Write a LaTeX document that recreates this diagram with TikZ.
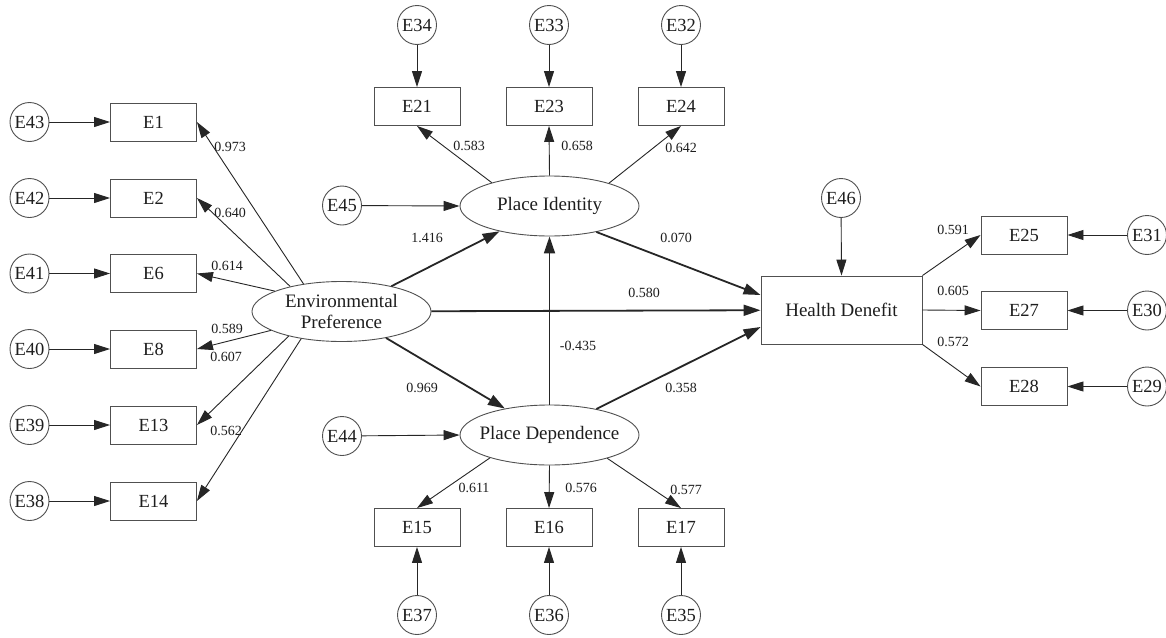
\documentclass[tikz,border=0pt]{standalone}
\usepackage{fontspec}
\setmainfont{Liberation Serif}
\usetikzlibrary{shapes.geometric,arrows.meta,calc}
\definecolor{ln}{HTML}{262626}
\definecolor{bd}{HTML}{505050}
\definecolor{tx}{HTML}{1E1E1E}
\begin{document}
\begin{tikzpicture}[x=1pt,y=-1pt,
  err/.style={circle,draw=bd,line width=0.9pt,minimum size=39pt,inner sep=0pt,text=tx,font=\fontsize{18.5}{20}\selectfont},
  obs/.style={rectangle,draw=bd,line width=0.9pt,minimum width=86pt,minimum height=38pt,inner sep=0pt,text=tx,font=\fontsize{18.5}{20}\selectfont},
  lat/.style={ellipse,draw=bd,line width=0.9pt,minimum width=179pt,minimum height=60pt,inner xsep=-12pt,inner ysep=0pt,text=tx,align=center,font=\fontsize{19}{21}\selectfont},
  lbl/.style={inner sep=0pt,text=tx,font=\fontsize{14}{15}\selectfont},
  thin/.style={draw=ln,line width=0.9pt,-{Triangle[length=16pt,width=10pt]}},
  thick/.style={draw=ln,line width=1.8pt,-{Triangle[length=17pt,width=11pt]}}
]
\useasboundingbox[fill=white] (0,0) rectangle (1166,637);

% left indicators
\foreach \e/\b/\y in {E43/E1/122,E42/E2/198,E41/E6/273.5,E40/E8/349,E39/E13/425,E38/E14/501}{
  \node[err] (\e) at (29.5,\y) {\e};
  \node[obs] (\b) at (153.5,\y) {\b};
  \draw[thin] (\e) -- (\b);
}

% latent variables
\node[lat] (EP) at (341.5,311.5) {Environmental\\Preference};
\node[lat] (PI) at (549.5,206) {Place Identity};
\node[lat] (PD) at (549.5,435) {Place Dependence};
\node[obs,minimum width=161pt,minimum height=68pt,font=\fontsize{19}{21}\selectfont] (H) at (841.5,310) {Health Denefit};

% disturbances
\node[err] (E45) at (342,205.5) {E45};
\node[err] (E44) at (342,436) {E44};
\node[err] (E46) at (841,198) {E46};
\draw[thin] (E45) -- (PI.west);
\draw[thin] (E44) -- (PD.west);
\draw[thin] (E46) -- (H.north);

% Place identity indicators
\foreach \b/\e/\x in {E21/E34/417,E23/E33/549,E24/E32/681}{
  \node[obs] (\b) at (\x,106.5) {\b};
  \node[err] (\e) at (\x,25) {\e};
  \draw[thin] (\e) -- (\b);
}
% Place dependence indicators
\foreach \b/\e/\x in {E15/E37/417,E16/E36/549,E17/E35/681}{
  \node[obs] (\b) at (\x,527.5) {\b};
  \node[err] (\e) at (\x,615) {\e};
  \draw[thin] (\e) -- (\b);
}
% Health indicators
\foreach \b/\e/\y in {E25/E31/235,E27/E30/310.5,E28/E29/386.5}{
  \node[obs] (\b) at (1024,\y) {\b};
  \node[err] (\e) at (1147,\y) {\e};
  \draw[thin] (\e) -- (\b);
}

% loadings of Environmental Preference
\draw[thin] (EP.144.6) -- (E1.east);
\draw[thin] (EP.154.1) -- (E2.east);
\draw[thin] (EP.163.3) -- (E6.east);
\draw[thin] (EP.195.3) -- (E8.east);
\draw[thin] (EP.205.1) -- (E13.east);
\draw[thin] (EP.214.8) -- (E14.east);

% loadings of Place Identity
\draw[thin] (PI.158.9) -- (E21.south);
\draw[thin] (PI.north) -- (E23.south);
\draw[thin] (PI.21.1) -- (E24.south);
% loadings of Place Dependence
\draw[thin] (PD.201.1) -- (E15.north);
\draw[thin] (PD.south) -- (E16.north);
\draw[thin] (PD.338.9) -- (E17.north);
% loadings of Health
\draw[thin] (H.north east) -- (E25.west);
\draw[thin] (H.east) -- (E27.west);
\draw[thin] (H.south east) -- (E28.west);

% structural paths
\draw[thick] (EP) -- (PI);
\draw[thick] (EP) -- (PD);
\draw[thick] (EP) -- (H);
\draw[thick] (PD.north) -- (PI.south);
\draw[thick] (PI.331.8) -- ($(H.west)+(0,-15)$);
\draw[thick] (PD.29.1) -- ($(H.west)+(0,17)$);

% coefficient labels
\node[lbl] (l1) at (230,147) {0.973};
\node[lbl] (l2) at (230,213) {0.640};
\node[lbl] (l3) at (227,266) {0.614};
\node[lbl] (l4) at (227,329) {0.589};
\node[lbl] (l5) at (226,357) {0.607};
\node[lbl] (l6) at (226,431) {0.562};
\node[lbl] (l7) at (427,238) {1.416};
\node[lbl] (l8) at (676,238) {0.070};
\node[lbl] (l9) at (469,146) {0.583};
\node[lbl] (l10) at (577,146) {0.658};
\node[lbl] (l11) at (681,148) {0.642};
\node[lbl] (l12) at (644,293) {0.580};
\node[lbl] (l13) at (578,346) {-0.435};
\node[lbl] (l14) at (422,388) {0.969};
\node[lbl] (l15) at (681,388) {0.358};
\node[lbl] (l16) at (474,488) {0.611};
\node[lbl] (l17) at (581,488) {0.576};
\node[lbl] (l18) at (686,490) {0.577};
\node[lbl] (l19) at (953,230) {0.591};
\node[lbl] (l20) at (953,291) {0.605};
\node[lbl] (l21) at (953,342) {0.572};
\end{tikzpicture}
\end{document}
